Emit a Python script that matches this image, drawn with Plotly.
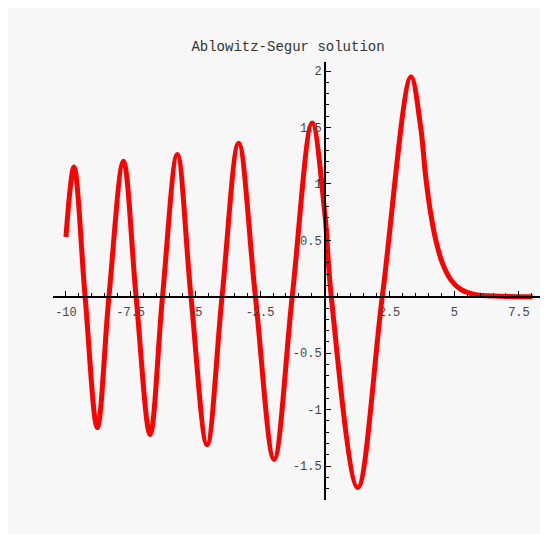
import plotly.graph_objects as go

# Curve values
x_vals = [-10.0, -9.69, -9.26, -8.79, -8.34, -7.78, -7.29, -6.75, -6.27, -5.70,
          -5.17, -4.55, -3.97, -3.33, -2.68, -1.96, -1.26, -0.49, 0.0, 0.25,
          1.27, 2.22, 3.33, 3.70, 3.90, 4.09, 4.29, 4.54, 4.87, 5.25,
          5.77, 6.8, 8.03]
y_vals = [0.53, 1.15, 0.0, -1.16, 0.0, 1.20, 0.0, -1.22, 0.0, 1.26,
          0.0, -1.31, 0.0, 1.36, 0.0, -1.44, 0.0, 1.54, 0.74, 0.0,
          -1.69, 0.0, 1.95, 1.51, 1.06, 0.74, 0.50, 0.30, 0.15, 0.065,
          0.02, 0.005, 0.0]

title_text = "Ablowitz-Segur solution"
x_tick_vals = [-10, -7.5, -5, -2.5, 2.5, 5, 7.5]
x_tick_text = ["-10", "-7.5", "-5", "-2.5", "2.5", "5", "7.5"]
y_tick_vals = [-1.5, -1, -0.5, 0.5, 1, 1.5, 2]
y_tick_text = ["-1.5", "-1", "-0.5", "0.5", "1", "1.5", "2"]

x_range = [-10.5, 8.43]
y_range = [-1.80, 2.08]

# the page body adds an 8px offset, so the figure is 8px smaller
W, H = 540, 526
ml, mr, mt, mb = 45, 5, 54, 34

fig = go.Figure()
fig.add_trace(go.Scatter(
    x=x_vals, y=y_vals, mode="lines",
    line=dict(color="#ff0000", width=5, shape="spline", smoothing=1.0),
    hoverinfo="skip", showlegend=False,
))

xpos = (0 - y_range[0]) / (y_range[1] - y_range[0])
ypos = (0 - x_range[0]) / (x_range[1] - x_range[0])

font = dict(family="Liberation Mono, DejaVu Sans Mono, monospace", size=12, color="#444444")

fig.update_layout(
    width=W, height=H,
    margin=dict(l=ml, r=mr, t=mt, b=mb),
    paper_bgcolor="#f7f7f7",
    plot_bgcolor="#f7f7f7",
    title=dict(text=title_text, x=280 / W, xanchor="center", xref="container",
               y=1 - 38 / H, yanchor="middle", yref="container",
               font=dict(family="Liberation Mono, DejaVu Sans Mono, monospace", size=14, color="#333333")),
    xaxis=dict(range=x_range, anchor="free", position=xpos, showgrid=False, zeroline=False,
               showline=True, linecolor="black", linewidth=1.5,
               ticks="inside", ticklen=5, tickcolor="black", tickwidth=1,
               tickvals=x_tick_vals, ticktext=x_tick_text, tickfont=font,
               ticklabelstandoff=4,
               minor=dict(ticks="inside", ticklen=3, tickcolor="black", dtick=0.5, showgrid=False)),
    yaxis=dict(range=y_range, anchor="free", position=ypos, showgrid=False, zeroline=False,
               showline=True, linecolor="black", linewidth=1.5,
               ticks="inside", ticklen=5, tickcolor="black", tickwidth=1,
               tickvals=y_tick_vals, ticktext=y_tick_text, tickfont=font,
               minor=dict(ticks="inside", ticklen=3, tickcolor="black", dtick=0.1, showgrid=False)),
)

fig.write_html("out.html")
